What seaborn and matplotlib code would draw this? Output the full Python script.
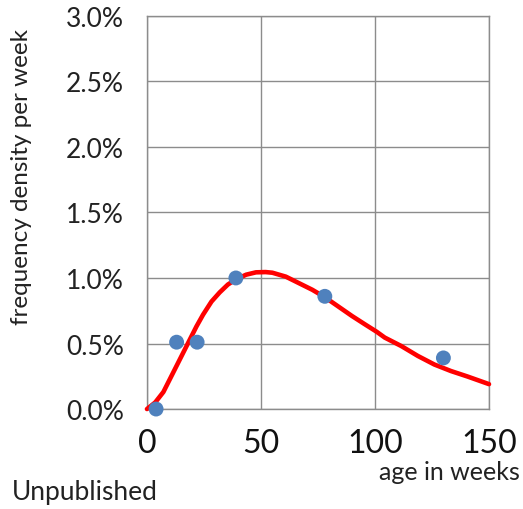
import matplotlib
matplotlib.use("Agg")
import matplotlib.pyplot as plt
import seaborn as sns
import pandas as pd
from matplotlib.ticker import FuncFormatter

# observed data points (age in weeks, frequency density)
obs_weeks = [4, 13, 22, 39, 78, 130]
obs_density = [0.0000, 0.0051, 0.0051, 0.0100, 0.0086, 0.0039]

# fitted curve
fit_weeks = [0, 3.6, 7.2, 10.1, 13.0, 15.9, 18.8, 21.7, 24.6, 28.3, 31.9, 35.5, 39.1, 43.5,
             47.8, 52.0, 55.0, 60.9, 66.7, 72.5, 78.3, 84.1, 89.9, 95.7, 100.7, 104.3,
             111.6, 118.8, 126.0, 133.3, 140.6, 150.0]
fit_density = [0.0, 0.0005, 0.0013, 0.0023, 0.0033, 0.0043, 0.0053, 0.0063, 0.0072, 0.0082,
               0.0089, 0.0095, 0.0099, 0.01025, 0.01043, 0.01045, 0.0104, 0.0101, 0.0096,
               0.0091, 0.0085, 0.0078, 0.0071, 0.00645, 0.0059, 0.00545, 0.0048, 0.00405,
               0.0034, 0.0029, 0.00248, 0.0019]

x_ticks = [0, 50, 100, 150]
y_ticks = [0.0, 0.005, 0.010, 0.015, 0.020, 0.025, 0.030]

sns.set_style("white")
plt.rcParams['font.family'] = ['Lato', 'DejaVu Sans']

fig = plt.figure(figsize=(5.23, 5.10), dpi=100)
ax = fig.add_axes([0.281, 0.196, 0.654, 0.771])

fit_df = pd.DataFrame({"weeks": fit_weeks, "density": fit_density})
obs_df = pd.DataFrame({"weeks": obs_weeks, "density": obs_density})

sns.lineplot(data=fit_df, x="weeks", y="density", ax=ax, color="#FF0000", linewidth=3.3,
             zorder=3, clip_on=False, solid_joinstyle="round", solid_capstyle="round")
sns.scatterplot(data=obs_df, x="weeks", y="density", ax=ax, color="#4F81BD", s=115,
                edgecolor="none", zorder=4, clip_on=False)

ax.set_xlim(0, 150)
ax.set_ylim(0, 0.030)
ax.set_xticks(x_ticks)
ax.set_yticks(y_ticks)
ax.yaxis.set_major_formatter(FuncFormatter(lambda v, p: f"{v*100:.1f}%"))
ax.grid(True, color="#8c8c8c", linewidth=1.0)
ax.set_axisbelow(True)
for s in ax.spines.values():
    s.set_color("#8c8c8c")
    s.set_linewidth(1.0)
ax.tick_params(axis="both", direction="out", length=6.5, color="#8c8c8c", width=1.0)
ax.tick_params(axis="y", labelsize=19, pad=10, colors="#8c8c8c", labelcolor="#222222")
ax.tick_params(axis="x", labelsize=23, pad=7, colors="#8c8c8c", labelcolor="#111111")
ax.set_xlabel("")
ax.set_ylabel("frequency density per week", fontsize=17.5, color="#222222")
ax.yaxis.set_label_coords(-0.336, 0.593)

fig.text(0.994, 0.0745, "age in weeks", ha="right", va="center", fontsize=18, color="#222222")
fig.text(0.023, 0.035, "Unpublished", ha="left", va="center", fontsize=19, color="#222222")

fig.savefig("out.png", dpi=100)
